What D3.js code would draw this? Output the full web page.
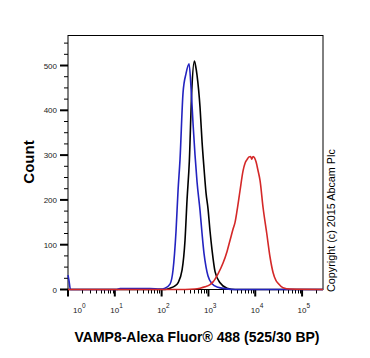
<!DOCTYPE html>
<html><head><meta charset="utf-8">
<script src="https://cdn.jsdelivr.net/npm/d3@7"></script>
<style>body{margin:0;background:#fff}svg{display:block}</style>
</head><body>
<svg id="chart" width="370" height="358"></svg>
<script>
// Fluorescence intensity (linear units) and counts for each histogram
const blueX = [1,1.05,1.13,11.1,12.9,56.5,92.5,118,151,175,203,224,247,287,332,385,425,469,517,571,662,730,805,889,980,1194,1603,2263,3700,280000];
const blueY = [32,20,0,0,2,2,1,3,12,43,130,220,290,440,482,504,450,370,300,240,176,125,80,50,30,13,5,2,0,0];
const blackX = [1,118,151,193,224,273,316,349,391,440,500,530,571,662,730,805,889,980,1082,1194,1384,1770,2497,3700,280000];
const blackY = [0,0,3,8,15,43,110,200,287,443,510,500,478,406,330,270,215,180,130,88,40,15,3,0,0];
const redX = [1,316,517,662,846,1082,1254,1603,2051,2497,2895,3356,3700,4083,4732,5484,6050,6676,7373,7943,8414,8974,9660,10400,11480,12670,14680,17620,20720,23990,27800,30690,39260,55430,280000];
const redY = [0,0,1,3,6,11,17,35,59,85,110,135,150,176,221,265,282,290,296,297,291,297,294,285,265,243,183,125,72,38,20,14,4,1,0];
const xMajorTicks = [1,10,100,1000,10000,100000];
const xTickExponents = ["0","1","2","3","4","5"];
const yMajorTicks = [0,100,200,300,400,500];
const yLabel = "Count";
const xLabel = "VAMP8-Alexa Fluor® 488 (525/30 BP)";
const copyright = "Copyright (c) 2015 Abcam Plc";

const svg = d3.select("#chart");
const L = 68, R = 323, T = 35.5, B = 289.5;
const x = d3.scaleLog().domain([1, 280000]).range([L, R]);
const y = d3.scaleLinear().domain([0, 567]).range([B, T]);
const font = "'Liberation Sans', Arial, sans-serif";

// minor ticks
const xMinor = [];
for (let d = 1; d <= 100000; d *= 10) for (let k = 2; k <= 9; k++) { const v = d * k; if (v <= 280000) xMinor.push(v); }
const yMinor = d3.range(25, 567, 25).filter(v => v % 100 !== 0);

const g = svg.append("g");
g.selectAll(".xmin").data(xMinor).join("line")
  .attr("x1", d => Math.round(x(d)) + 0.5).attr("x2", d => Math.round(x(d)) + 0.5)
  .attr("y1", B).attr("y2", B + 4).attr("stroke", "#000").attr("stroke-width", 1);
g.selectAll(".xmaj").data(xMajorTicks).join("line")
  .attr("x1", d => x(d)).attr("x2", d => x(d))
  .attr("y1", B).attr("y2", B + 7).attr("stroke", "#000").attr("stroke-width", 2);
g.selectAll(".ymin").data(yMinor).join("line")
  .attr("x1", L - 4).attr("x2", L)
  .attr("y1", d => y(d)).attr("y2", d => y(d)).attr("stroke", "#000").attr("stroke-width", 1);
g.selectAll(".ymaj").data(yMajorTicks).join("line")
  .attr("x1", L - 8).attr("x2", L)
  .attr("y1", d => y(d)).attr("y2", d => y(d)).attr("stroke", "#000").attr("stroke-width", 2);

// frame
svg.append("rect").attr("x", L).attr("y", T).attr("width", R - L).attr("height", B - T)
  .attr("fill", "none").attr("stroke", "#000").attr("stroke-width", 1);

// tick labels
g.selectAll(".ylab").data(yMajorTicks).join("text")
  .attr("x", L - 11).attr("y", d => y(d) + 3)
  .attr("text-anchor", "end").attr("font-family", font).attr("font-size", 8).attr("fill", "#222")
  .text(d => d);
const xl = g.selectAll(".xlab").data(xMajorTicks).join("text")
  .attr("x", (d, i) => i === 0 ? x(d) + 5 : x(d) - 4.5).attr("y", B + 23)
  .attr("font-family", font).attr("font-size", 8).attr("fill", "#222");
xl.append("tspan").text("10");
xl.append("tspan").attr("dy", -5).attr("font-size", 6.5).text((d, i) => xTickExponents[i]);

// curves
const line = d3.line().x(d => x(d[0])).y(d => y(d[1])).curve(d3.curveMonotoneX);
const series = [
  {xs: blackX, ys: blackY, color: "#000000"},
  {xs: blueX, ys: blueY, color: "#2323c0"},
  {xs: redX, ys: redY, color: "#d42828"}
];
svg.selectAll(".curve").data(series).join("path")
  .attr("d", s => line(s.xs.map((v, i) => [v, s.ys[i]])))
  .attr("fill", "none").attr("stroke", s => s.color).attr("stroke-width", 1.6);

// axis titles
svg.append("text").attr("transform", `translate(34,162) rotate(-90)`)
  .attr("text-anchor", "middle").attr("font-family", font).attr("font-weight", "bold")
  .attr("font-size", 15).attr("fill", "#000").text(yLabel);
svg.append("text").attr("x", 197).attr("y", 342)
  .attr("text-anchor", "middle").attr("font-family", font).attr("font-weight", "bold")
  .attr("font-size", 14).attr("fill", "#000").text(xLabel);
svg.append("text").attr("transform", `translate(335,292) rotate(-90)`)
  .attr("text-anchor", "start").attr("font-family", font)
  .attr("font-size", 10.8).attr("fill", "#000").text(copyright);
</script>
</body></html>
